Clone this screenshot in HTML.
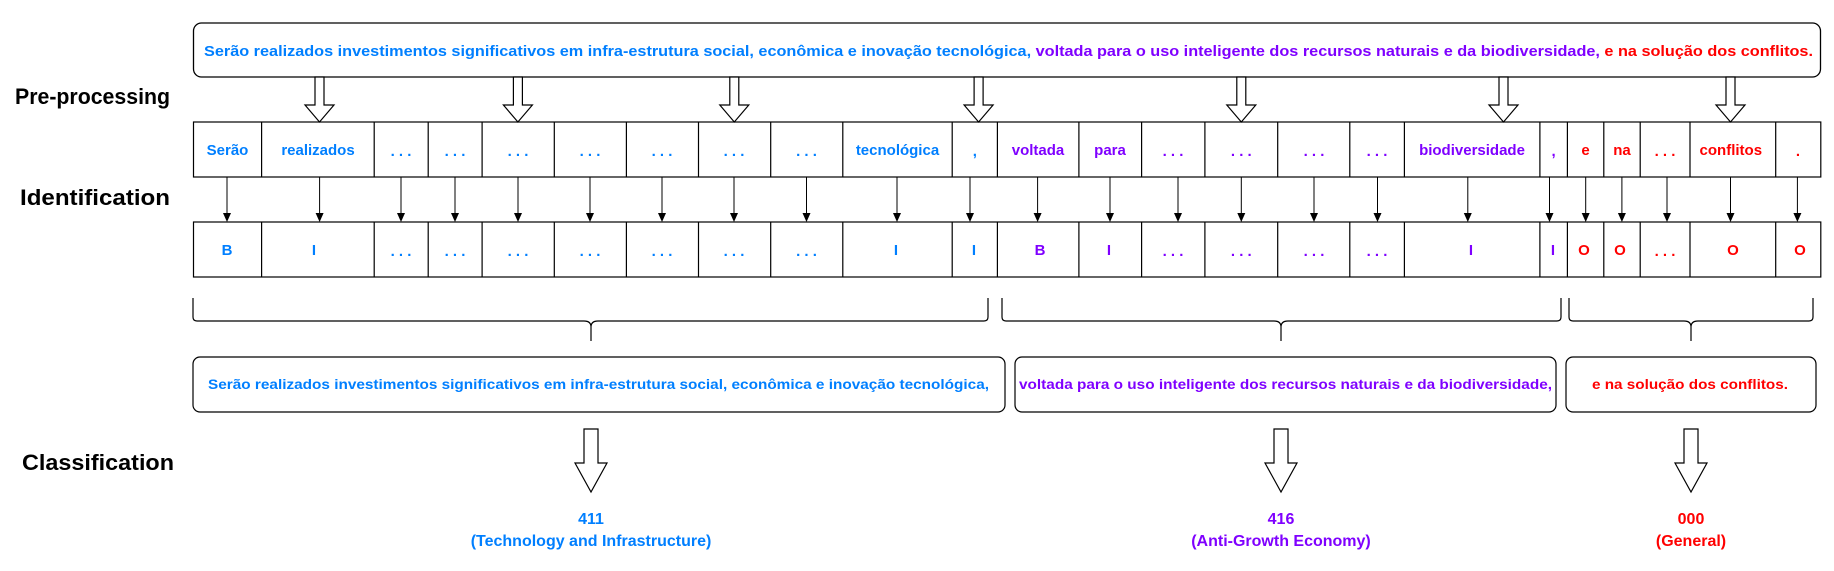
<!DOCTYPE html>
<html><head><meta charset="utf-8"><style>
html,body{margin:0;padding:0;background:#fff;}
svg{display:block;font-family:"Liberation Sans",Arial,sans-serif;}
.tk{font-weight:bold;font-size:15px;text-anchor:middle;}
.b{fill:#007FFF}.p{fill:#7F00FF}.r{fill:#FF0000}
.lab{font-weight:bold;font-size:22px;fill:#000}
</style></head><body>
<svg width="1834" height="571" viewBox="0 0 1834 571" xmlns="http://www.w3.org/2000/svg">
<defs>
<g id="sa"><line x1="0" y1="177" x2="0" y2="214" stroke="#000" stroke-width="1"/><path d="M-4,213 L4,213 L0,222 Z" fill="#000"/></g>
</defs>
<text class="lab" x="15" y="104" textLength="155" lengthAdjust="spacingAndGlyphs">Pre-processing</text>
<text class="lab" x="20" y="205" textLength="150" lengthAdjust="spacingAndGlyphs">Identification</text>
<text class="lab" x="22" y="470" textLength="152" lengthAdjust="spacingAndGlyphs">Classification</text>

<rect x="193.5" y="23" width="1627" height="54" rx="8" fill="#fff" stroke="#000" stroke-width="1.3"/>
<text x="204" y="56" font-weight="bold" font-size="15" textLength="1609" lengthAdjust="spacingAndGlyphs"><tspan class="b">Serão realizados investimentos significativos em infra-estrutura social, econômica e inovação tecnológica, </tspan><tspan class="p">voltada para o uso inteligente dos recursos naturais e da biodiversidade, </tspan><tspan class="r">e na solução dos conflitos.</tspan></text>

<g fill="#fff" stroke="#000" stroke-width="1.2">
<path d="M315,77 h9 v28 h10 l-14.5,17 l-14.5,-17 h10 z"/>
<path d="M513.4,77 h9 v28 h10 l-14.5,17 l-14.5,-17 h10 z"/>
<path d="M729.8,77 h9 v28 h10 l-14.5,17 l-14.5,-17 h10 z"/>
<path d="M974.1,77 h9 v28 h10 l-14.5,17 l-14.5,-17 h10 z"/>
<path d="M1236.8,77 h9 v28 h10 l-14.5,17 l-14.5,-17 h10 z"/>
<path d="M1499,77 h9 v28 h10 l-14.5,17 l-14.5,-17 h10 z"/>
<path d="M1726,77 h9 v28 h10 l-14.5,17 l-14.5,-17 h10 z"/>
</g>

<g fill="none" stroke="#000" stroke-width="1.2">
<rect x="193.5" y="122" width="1627.3" height="55"/>
<rect x="193.5" y="222" width="1627.3" height="55"/>
<path d="M261.6,122v55M374.2,122v55M428.2,122v55M482.1,122v55M554.3,122v55M626.4,122v55M698.5,122v55M770.7,122v55M842.8,122v55M952.2,122v55M997.4,122v55M1078.9,122v55M1141.6,122v55M1204.9,122v55M1277.7,122v55M1349.8,122v55M1404.4,122v55M1539.9,122v55M1567.4,122v55M1603.8,122v55M1640.2,122v55M1690,122v55M1775.7,122v55"/>
<path d="M261.6,222v55M374.2,222v55M428.2,222v55M482.1,222v55M554.3,222v55M626.4,222v55M698.5,222v55M770.7,222v55M842.8,222v55M952.2,222v55M997.4,222v55M1078.9,222v55M1141.6,222v55M1204.9,222v55M1277.7,222v55M1349.8,222v55M1404.4,222v55M1539.9,222v55M1567.4,222v55M1603.8,222v55M1640.2,222v55M1690,222v55M1775.7,222v55"/>
</g>

<use href="#sa" x="227"/>
<use href="#sa" x="319.6"/>
<use href="#sa" x="401"/>
<use href="#sa" x="455"/>
<use href="#sa" x="518"/>
<use href="#sa" x="590"/>
<use href="#sa" x="662"/>
<use href="#sa" x="734"/>
<use href="#sa" x="806.5"/>
<use href="#sa" x="897"/>
<use href="#sa" x="970"/>
<use href="#sa" x="1037.6"/>
<use href="#sa" x="1110"/>
<use href="#sa" x="1178"/>
<use href="#sa" x="1241.3"/>
<use href="#sa" x="1314"/>
<use href="#sa" x="1377.5"/>
<use href="#sa" x="1467.8"/>
<use href="#sa" x="1549.5"/>
<use href="#sa" x="1585.7"/>
<use href="#sa" x="1621.9"/>
<use href="#sa" x="1667"/>
<use href="#sa" x="1730.5"/>
<use href="#sa" x="1797.4"/>

<g>
<text class="tk b" x="227.5" y="155">Serão</text>
<text class="tk b" x="318" y="155">realizados</text>
<text class="tk b" x="401" y="156">. . .</text>
<text class="tk b" x="455" y="156">. . .</text>
<text class="tk b" x="518" y="156">. . .</text>
<text class="tk b" x="590" y="156">. . .</text>
<text class="tk b" x="662" y="156">. . .</text>
<text class="tk b" x="734" y="156">. . .</text>
<text class="tk b" x="806.5" y="156">. . .</text>
<text class="tk b" x="897.5" y="155">tecnológica</text>
<text class="tk b" x="974.8" y="156">,</text>
<text class="tk p" x="1038" y="155">voltada</text>
<text class="tk p" x="1110" y="155">para</text>
<text class="tk p" x="1173" y="156">. . .</text>
<text class="tk p" x="1241.3" y="156">. . .</text>
<text class="tk p" x="1314" y="156">. . .</text>
<text class="tk p" x="1377" y="156">. . .</text>
<text class="tk p" x="1472" y="155">biodiversidade</text>
<text class="tk p" x="1553.6" y="156">,</text>
<text class="tk r" x="1585.6" y="155">e</text>
<text class="tk r" x="1622" y="155">na</text>
<text class="tk r" x="1665" y="156">. . .</text>
<text class="tk r" x="1730.8" y="155">conflitos</text>
<text class="tk r" x="1798" y="156">.</text>
</g>
<g>
<text class="tk b" x="227" y="255">B</text>
<text class="tk b" x="314" y="255">I</text>
<text class="tk b" x="401" y="256">. . .</text>
<text class="tk b" x="455" y="256">. . .</text>
<text class="tk b" x="518" y="256">. . .</text>
<text class="tk b" x="590" y="256">. . .</text>
<text class="tk b" x="662" y="256">. . .</text>
<text class="tk b" x="734" y="256">. . .</text>
<text class="tk b" x="806.5" y="256">. . .</text>
<text class="tk b" x="896" y="255">I</text>
<text class="tk b" x="974" y="255">I</text>
<text class="tk p" x="1040" y="255">B</text>
<text class="tk p" x="1109" y="255">I</text>
<text class="tk p" x="1173" y="256">. . .</text>
<text class="tk p" x="1241.3" y="256">. . .</text>
<text class="tk p" x="1314" y="256">. . .</text>
<text class="tk p" x="1377" y="256">. . .</text>
<text class="tk p" x="1471" y="255">I</text>
<text class="tk p" x="1553" y="255">I</text>
<text class="tk r" x="1584" y="255">O</text>
<text class="tk r" x="1620" y="255">O</text>
<text class="tk r" x="1665" y="256">. . .</text>
<text class="tk r" x="1733" y="255">O</text>
<text class="tk r" x="1800" y="255">O</text>
</g>

<g fill="none" stroke="#000" stroke-width="1.2">
<path d="M193,298 v19 q0,4 4,4 h387 q7,0 7,6 q0,-6 7,-6 h386 q4,0 4,-4 v-19 M591,327 v14"/>
<path d="M1002,298 v19 q0,4 4,4 h268 q7,0 7,6 q0,-6 7,-6 h269 q4,0 4,-4 v-19 M1281,327 v14"/>
<path d="M1569,298 v19 q0,4 4,4 h111 q7,0 7,6 q0,-6 7,-6 h111 q4,0 4,-4 v-19 M1691,327 v14"/>
</g>

<g fill="#fff" stroke="#000" stroke-width="1.2">
<rect x="193" y="357" width="812" height="55" rx="7"/>
<rect x="1015" y="357" width="541" height="55" rx="7"/>
<rect x="1566" y="357" width="250" height="55" rx="7"/>
</g>
<text x="208" y="389" font-weight="bold" font-size="13.5" class="b" textLength="781" lengthAdjust="spacingAndGlyphs">Serão realizados investimentos significativos em infra-estrutura social, econômica e inovação tecnológica,</text>
<text x="1019" y="389" font-weight="bold" font-size="13.5" class="p" textLength="533" lengthAdjust="spacingAndGlyphs">voltada para o uso inteligente dos recursos naturais e da biodiversidade,</text>
<text x="1592" y="389" font-weight="bold" font-size="13.5" class="r" textLength="196" lengthAdjust="spacingAndGlyphs">e na solução dos conflitos.</text>

<g fill="#fff" stroke="#000" stroke-width="1.2">
<path d="M584,429 h14 v34 h9 l-16,29 l-16,-29 h9 z"/>
<path d="M1274,429 h14 v34 h9 l-16,29 l-16,-29 h9 z"/>
<path d="M1684,429 h14 v34 h9 l-16,29 l-16,-29 h9 z"/>
</g>

<g font-weight="bold" font-size="16" text-anchor="middle">
<text class="b" x="591" y="524">411</text>
<text class="b" x="591" y="546">(Technology and Infrastructure)</text>
<text class="p" x="1281" y="524">416</text>
<text class="p" x="1281" y="546">(Anti-Growth Economy)</text>
<text class="r" x="1691" y="524">000</text>
<text class="r" x="1691" y="546">(General)</text>
</g>
</svg>
</body></html>
